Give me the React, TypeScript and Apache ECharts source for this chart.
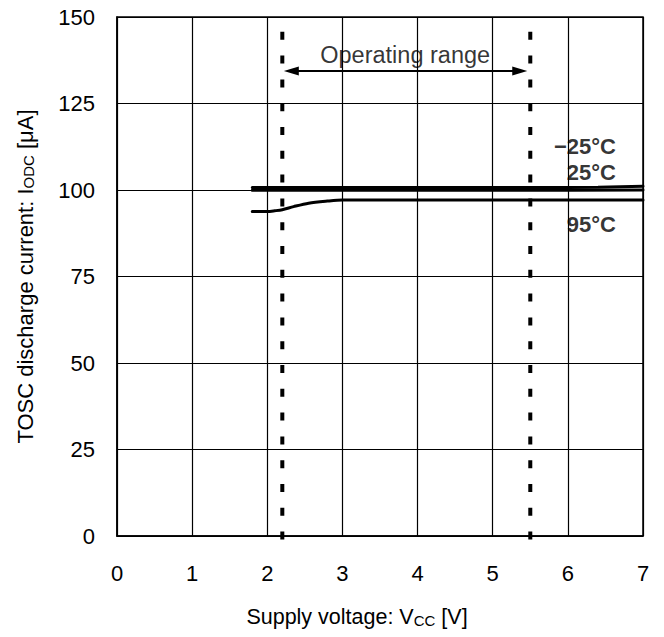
import React, { useEffect, useRef } from "react";
import * as echarts from "echarts";

const FONT = "Arial, 'Liberation Sans', sans-serif";

// Supply voltage [V] and discharge current [uA]
const voltM25 = [1.8, 2.0, 3.0, 4.0, 5.0, 6.0, 7.0];
const currM25 = [99.9, 99.9, 99.9, 99.9, 99.9, 99.9, 100.0];
const volt25 = [1.8, 2.0, 3.0, 4.0, 5.0, 6.0, 6.4, 7.0];
const curr25 = [100.7, 100.7, 100.7, 100.7, 100.7, 100.7, 100.8, 101.1];
const volt95 = [1.8, 2.0, 2.1, 2.2, 2.35, 2.55, 2.8, 3.0, 4.0, 5.0, 6.0, 7.0];
const curr95 = [93.8, 93.8, 94.0, 94.3, 95.2, 96.2, 96.8, 97.1, 97.1, 97.1, 97.1, 97.1];

// Operating range limits [V]
const rangeMin = 2.2;
const rangeMax = 5.5;

// Annotation texts: [x, y, text]
const tempLabels: [number, number, string][] = [
  [6.64, 112.6, "\u221225\u00b0C"],
  [6.64, 105.0, "25\u00b0C"],
  [6.64, 89.9, "95\u00b0C"],
];
const rangeLabel: [number, number, string] = [3.835, 139.0, "Operating range"];
const arrowY = 134.4;
const arrowX = [2.32, 5.36];

const xTitle = "Supply voltage: V{s|CC} [V]";
const yTitle = "{m|TOSC discharge current: I}{s|ODC}{m| [\u03bcA]}";

export default function App() {
  const ref = useRef<HTMLDivElement>(null);
  useEffect(() => {
    if (!ref.current) return;
    const chart = echarts.init(ref.current, null, { renderer: "svg" });
    const pair = (xs: number[], ys: number[]) => xs.map((x, i) => [x, ys[i]]);
    const black = "#000";
    const option: any = {
      animation: false,
      backgroundColor: "#fff",
      grid: {
        left: 117,
        top: 17,
        right: 21,
        bottom: 101,
        show: true,
        borderColor: black,
        borderWidth: 1.5,
        backgroundColor: "transparent",
      },
      xAxis: {
        type: "value",
        min: 0,
        max: 7,
        interval: 1,
        axisLine: { show: true, lineStyle: { color: black, width: 1.5 } },
        axisTick: { show: false },
        splitLine: { show: true, lineStyle: { color: black, width: 1.2 } },
        axisLabel: { color: black, fontSize: 22, fontFamily: FONT, margin: 26 },
      },
      yAxis: {
        type: "value",
        min: 0,
        max: 150,
        interval: 25,
        axisLine: { show: true, lineStyle: { color: black, width: 1.5 } },
        axisTick: { show: false },
        splitLine: { show: true, lineStyle: { color: black, width: 1.2 } },
        axisLabel: { color: black, fontSize: 22, fontFamily: FONT, margin: 22 },
      },
      graphic: [
        {
          type: "text",
          x: 357,
          y: 617,
          style: {
            text: xTitle,
            fill: black,
            fontSize: 21.5,
            fontFamily: FONT,
            align: "center",
            verticalAlign: "middle",
            rich: {
              s: { fontSize: 15, fontFamily: FONT, fill: black, verticalAlign: "bottom", padding: [9, 0, 0, 0], lineHeight: 15 },
            },
          },
        },
        {
          type: "text",
          x: 25,
          y: 276.5,
          rotation: Math.PI / 2,
          style: {
            text: yTitle,
            fill: black,
            fontSize: 22,
            fontFamily: FONT,
            align: "center",
            verticalAlign: "middle",
            rich: {
              m: { fontSize: 22, fontFamily: FONT, fill: black, lineHeight: 22, verticalAlign: "top" },
              s: { fontSize: 15, fontFamily: FONT, fill: black, verticalAlign: "bottom", padding: [9, 0, 0, 0], lineHeight: 15 },
            },
          },
        },
      ],
      series: [
        {
          type: "line",
          name: "-25",
          data: pair(voltM25, currM25),
          symbol: "none",
          lineStyle: { color: black, width: 3, cap: "round" },
          z: 5,
        },
        {
          type: "line",
          name: "25",
          data: pair(volt25, curr25),
          symbol: "none",
          lineStyle: { color: black, width: 3, cap: "round" },
          z: 5,
        },
        {
          type: "line",
          name: "95",
          data: pair(volt95, curr95),
          symbol: "none",
          smooth: 0.3,
          lineStyle: { color: black, width: 3, cap: "round" },
          z: 5,
        },
        {
          type: "line",
          data: [[rangeMin, 150], [rangeMin, -1.6]],
          symbol: "none",
          clip: false,
          lineStyle: { color: black, width: 4, type: [8, 15.8], dashOffset: 9.1 },
          z: 4,
        },
        {
          type: "line",
          data: [[rangeMax, 150], [rangeMax, -1.6]],
          symbol: "none",
          clip: false,
          lineStyle: { color: black, width: 4, type: [8, 15.8], dashOffset: 9.1 },
          z: 4,
          markLine: {
            silent: true,
            symbol: ["triangle", "triangle"],
            symbolSize: [9, 15],
            label: { show: false },
            lineStyle: { color: black, width: 2, type: "solid" },
            data: [[{ coord: [arrowX[0], arrowY] }, { coord: [arrowX[1], arrowY] }]],
          },
        },
        {
          type: "scatter",
          symbolSize: 0.01,
          itemStyle: { color: "transparent" },
          data: tempLabels.map((d) => ({ value: [d[0], d[1]], name: d[2] })),
          label: {
            show: true,
            position: "left",
            distance: 0,
            formatter: "{b}",
            color: black,
            fontSize: 22,
            fontWeight: "bold",
            fontFamily: FONT,
          },
          z: 6,
        },
        {
          type: "scatter",
          symbolSize: 0.01,
          itemStyle: { color: "transparent" },
          data: [{ value: [rangeLabel[0], rangeLabel[1]], name: rangeLabel[2] }],
          label: {
            show: true,
            position: "inside",
            formatter: "{b}",
            color: black,
            fontSize: 23.5,
            fontFamily: FONT,
          },
          z: 6,
        },
      ],
    };
    chart.setOption(option);
    return () => chart.dispose();
  }, []);
  return (
    <div
      ref={ref}
      style={{ position: "fixed", left: 0, top: 0, width: 664, height: 637, background: "#fff" }}
    />
  );
}
